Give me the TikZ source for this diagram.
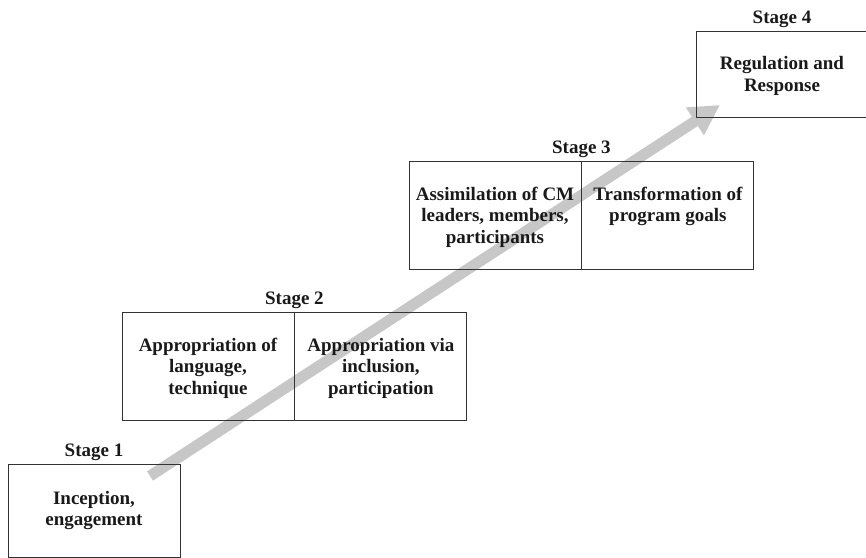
\documentclass[tikz,border=0pt]{standalone}
\usepackage{fontspec}
\setmainfont{Liberation Serif}
\usetikzlibrary{arrows.meta,positioning,backgrounds}

\begin{document}
\begin{tikzpicture}[
  x=1pt, y=-1pt,
  font=\fontsize{19}{21.5}\selectfont\bfseries,
  bx/.style={draw=black!80, line width=0.9pt, align=center, minimum width=172pt, inner sep=0pt, text=black!90},
  lo/.style={text depth=-2pt},
  st/.style={anchor=base, inner sep=0pt, text=black!90},
  ga/.style={line width=11pt, draw=black!22, -{Triangle[length=30pt,width=31pt]}}
]
\useasboundingbox (0,0) rectangle (866,557);

\node[bx, minimum height=93pt] (s1) at (94,510.5) {Inception,\\engagement};
\node[bx, lo, minimum height=108pt] (s2a) at (208,366) {Appropriation of\\language,\\technique};
\node[bx, lo, minimum height=108pt, right=0pt of s2a] (s2b) {Appropriation via\\inclusion,\\participation};
\node[bx, lo, minimum height=108pt] (s3a) at (495,215) {Assimilation of CM\\leaders, members,\\participants};
\node[bx, lo, minimum height=108pt, right=0pt of s3a] (s3b) {Transformation of\\program goals\\\vphantom{p}};
\node[bx, lo, minimum height=86pt] (s4) at (782,74) {Regulation and\\Response};

\node[above=7pt of s1.north, st] (l1) {Stage 1};
\node[above=7pt of s2a.north east, st] (l2) {Stage 2};
\node[above=7pt of s3a.north east, st] (l3) {Stage 3};
\node[above=7pt of s4.north, st] (l4) {Stage 4};

\coordinate (from) at (150,476);
\coordinate (to) at (720,105);
\begin{scope}[on background layer]
\draw[ga] (from) -- (to);
\end{scope}
\end{tikzpicture}
\end{document}
